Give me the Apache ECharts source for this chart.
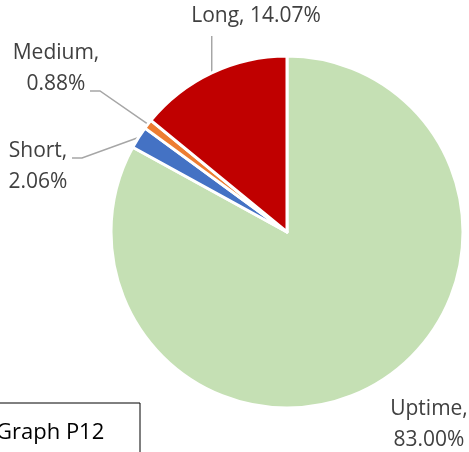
<!DOCTYPE html>
<html>
<head>
<meta charset="utf-8">
<script src="https://cdn.jsdelivr.net/npm/echarts@6/dist/echarts.min.js"></script>
<style>
html,body{margin:0;padding:0;background:#fff;}
#main{width:469px;height:452px;}
</style>
</head>
<body>
<div id="main"></div>
<script>
// data
var categories=['Uptime','Short','Medium','Long'];
var values=[83.00,2.06,0.88,14.07];
var colors=['#C5E0B4','#4472C4','#ED7D31','#C00000'];

var chart=echarts.init(document.getElementById('main'));

// label placement (layout only)
var labelPos={
	Uptime:{x:429,y:425},
	Short:{x:38,y:167,elbow:[82,158],end:[72,158]},
	Medium:{x:56,y:69,elbow:[100,91],end:[90,91]},
	Long:{x:256,y:16,top:36}
};

var pieData=categories.map(function(name,i){
	return {
		name:name,
		value:values[i],
		itemStyle:{color:colors[i]},
		labelLine:{show:name!=='Uptime'}
	};
});

chart.setOption({
	animation:false,
	series:[{
		type:'pie',
		center:[287,232],
		radius:176,
		startAngle:90,
		clockwise:true,
		avoidLabelOverlap:false,
		itemStyle:{borderColor:'#fff',borderWidth:3},
		label:{
			show:true,
			position:'outside',
			fontFamily:'Open Sans',
			fontSize:21,
			lineHeight:31,
			color:'#404040',
			align:'center',
			formatter:function(p){
				return p.name+(p.name==='Long'?', ':',\n')+p.value.toFixed(2)+'%';
			}
		},
		labelLine:{
			show:true,
			lineStyle:{color:'#A6A6A6',width:1.5}
		},
		labelLayout:function(p){
			var name=categories[p.dataIndex];
			var pos=labelPos[name];
			var out={x:pos.x,y:pos.y,align:'center',verticalAlign:'middle'};
			var pts=p.labelLinePoints;
			if(pts&&pts.length){
				var a=pts[0];
				if(pos.elbow){
					out.labelLinePoints=[a,pos.elbow,pos.end];
				}else if(pos.top){
					out.labelLinePoints=[a,[a[0],pos.top]];
				}
			}
			return out;
		},
		data:pieData
	}],
	graphic:[{
		type:'group',
		x:-1,
		y:403,
		children:[{
			type:'rect',
			shape:{x:0,y:0,width:141,height:60},
			style:{fill:'#fff',stroke:'#000',lineWidth:1}
		},{
			type:'text',
			x:-3,
			y:30,
			style:{
				text:'Graph P12',
				font:'22px "Open Sans"',
				fill:'#000',
				verticalAlign:'middle'
			}
		}]
	}]
});
</script>
</body>
</html>
